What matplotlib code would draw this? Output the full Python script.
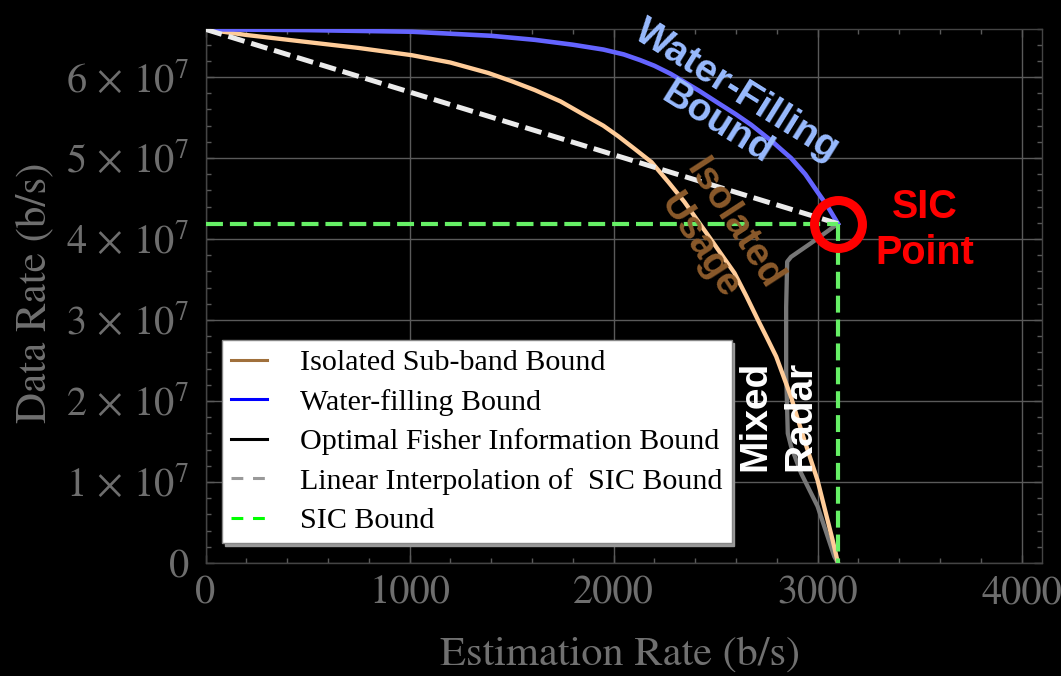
import matplotlib
matplotlib.use("Agg")
import matplotlib.pyplot as plt
from matplotlib.lines import Line2D
from matplotlib.ticker import MultipleLocator, FuncFormatter

plt.rcParams["mathtext.fontset"] = "stix"
plt.rcParams["lines.scale_dashes"] = False

# ---- data -------------------------------------------------------------
sic_est = 3100          # estimation rate at the SIC point (b/s)
sic_data = 4.19e7       # data rate at the SIC point (b/s)
start_data = 6.59e7     # pure communication data rate (b/s)

# water-filling bound
wf_est = [0, 500, 1012, 1400, 1614, 1800, 1950, 2050, 2130, 2200, 2280,
          2347, 2420, 2500, 2600, 2675, 2720, 2780, 2820, 2870, 2940, 3000,
          3050, 3100]
wf_data = [6.59e7, 6.58e7, 6.56e7, 6.51e7, 6.46e7, 6.40e7, 6.34e7, 6.28e7,
           6.21e7, 6.14e7, 6.04e7, 5.94e7, 5.83e7, 5.70e7, 5.54e7, 5.41e7,
           5.32e7, 5.20e7, 5.11e7, 5.00e7, 4.80e7, 4.58e7, 4.40e7, 4.19e7]

# isolated sub-band bound
iso_est = [0, 200, 474, 750, 1012, 1200, 1387, 1500, 1614, 1740, 1858,
           1950, 2023, 2100, 2186, 2270, 2347, 2420, 2479, 2540, 2593, 2650,
           2708, 2750, 2797, 2835, 2870, 2900, 2935, 2970, 3000, 3025, 3049,
           3075, 3100]
iso_data = [6.59e7, 6.52e7, 6.44e7, 6.36e7, 6.27e7, 6.18e7, 6.05e7, 5.95e7,
            5.84e7, 5.70e7, 5.53e7, 5.40e7, 5.27e7, 5.12e7, 4.95e7, 4.70e7,
            4.46e7, 4.20e7, 3.99e7, 3.77e7, 3.58e7, 3.30e7, 3.00e7, 2.79e7,
            2.55e7, 2.29e7, 2.05e7, 1.80e7, 1.52e7, 1.25e7, 1.02e7, 0.77e7,
            0.53e7, 0.27e7, 0.0]

# optimal Fisher information bound (mixed radar)
mix_est = [3100, 2968, 2870, 2851, 2846, 2846, 2854, 2870, 2919, 3000,
           3082, 3100]
mix_data = [4.19e7, 3.95e7, 3.78e7, 3.72e7, 3.16e7, 2.35e7, 1.60e7,
            1.44e7, 1.11e7, 0.70e7, 0.08e7, 0.0]

# linear interpolation of the SIC bound
lin_est = [0, sic_est]
lin_data = [start_data, sic_data]

legend_labels = ["Isolated Sub-band Bound", "Water-filling Bound",
                 "Optimal Fisher Information Bound",
                 "Linear Interpolation of  SIC Bound", "SIC Bound"]

x_ticks = [0, 1000, 2000, 3000, 4000]
y_ticks = [0, 1e7, 2e7, 3e7, 4e7, 5e7, 6e7]

# ---- figure -----------------------------------------------------------
W, H = 1061, 676
fig = plt.figure(figsize=(W / 100, H / 100), dpi=100, facecolor="black")
ax = fig.add_axes([205.5 / W, 1 - 563 / H, (1042 - 205.5) / W, (563 - 28.5) / H])
ax.set_facecolor("black")
ax.set_xlim(0, 4100)
ax.set_ylim(0, 6.6e7)

frame_c = "#444444"
for s in ax.spines.values():
    s.set_color(frame_c)
    s.set_linewidth(1.0)

ax.set_xticks(x_ticks)
ax.set_yticks(y_ticks)
ax.xaxis.set_minor_locator(MultipleLocator(200))
ax.yaxis.set_minor_locator(MultipleLocator(2e6))
ax.tick_params(which="both", direction="in", top=True, right=True,
               color="#5a5a5a", width=1.0)
ax.tick_params(which="major", length=6)
ax.tick_params(which="minor", length=3.5)
ax.tick_params(axis="both", labelcolor="#6e6e6e", labelsize=29)
ax.tick_params(axis="x", pad=9)
ax.tick_params(axis="y", pad=12)

def y_fmt(v, _):
    n = int(round(v / 1e7))
    return "0" if n == 0 else r"$%d\,\times\,10^{7}$" % n

ax.yaxis.set_major_formatter(FuncFormatter(y_fmt))
for lab in ax.get_xticklabels() + ax.get_yticklabels():
    lab.set_fontfamily("STIXGeneral")

ax.grid(True, which="major", color="#5a5a5a", linewidth=1.0)
ax.set_axisbelow(True)

ax.set_xlabel("Estimation Rate (b/s)", fontsize=30.5, color="#707070",
              fontfamily="STIXGeneral")
ax.set_ylabel("Data Rate (b/s)", fontsize=31, color="#707070",
              fontfamily="STIXGeneral")
ax.xaxis.set_label_coords(0.4955, -0.172)
ax.xaxis.label.set_va("center")
ax.yaxis.set_label_coords(-0.204, 0.505)
ax.yaxis.label.set_va("center")

# ---- curves -----------------------------------------------------------
dash = (0, (12.2, 5.0))
ax.plot(mix_est, mix_data, color="#777777", lw=3.1, solid_joinstyle="round",
        zorder=3)
ax.plot(iso_est, iso_data, color="#FFCC99", lw=3.1, solid_joinstyle="round",
        zorder=4)
ax.plot(wf_est, wf_data, color="#6464FF", lw=3.3, solid_joinstyle="round",
        zorder=4)
ax.plot(lin_est, lin_data, color="#EBEBEB", lw=3.6, linestyle=dash, zorder=5)
ax.plot([0, sic_est], [sic_data, sic_data], color="#66F066", lw=3.0,
        linestyle=dash, zorder=6)
ax.plot([sic_est, sic_est], [sic_data, 0], color="#66F066", lw=3.0,
        linestyle=dash, zorder=6)
ax.plot([sic_est], [sic_data], marker="o", markersize=34.5,
        markerfacecolor="none", markeredgecolor="#FF0000",
        markeredgewidth=6.5, zorder=8, clip_on=False)

# ---- annotations ------------------------------------------------------
bold = dict(fontfamily="Liberation Sans", fontweight="bold",
            ha="center", va="center", rotation_mode="anchor",
            multialignment="center", zorder=9)
ax.text(2555, 5.63e7, "Water-Filling\nBound", color="#99BBFF", fontsize=28,
        rotation=-32, linespacing=1.05, **bold)
ax.text(2505, 4.05e7, "Isolated\nUsage", color="#8B5A2B", fontsize=28,
        rotation=-57, linespacing=1.15, **bold)
ax.text(3525, 4.11e7, "SIC\nPoint", color="#FF0000", fontsize=28.5,
        rotation=0, linespacing=1.25, **bold)
ax.text(2805, 1.82e7, "Mixed\nRadar", color="white", fontsize=28,
        rotation=90, linespacing=1.3, **bold)

# ---- legend -----------------------------------------------------------
handles = [
    Line2D([], [], color="#A0703C", lw=2.2),
    Line2D([], [], color="#0000FF", lw=2.2),
    Line2D([], [], color="#000000", lw=2.2),
    Line2D([], [], color="#999999", lw=2.2, linestyle=(0, (8.5, 7))),
    Line2D([], [], color="#00FF00", lw=2.2, linestyle=(0, (8.5, 7))),
]
leg = ax.legend(handles, legend_labels, loc="upper left",
                bbox_to_anchor=(222 / W, 1 - 340 / H),
                bbox_transform=fig.transFigure, borderaxespad=0,
                prop={"family": "Liberation Serif", "size": 21.6},
                frameon=True, fancybox=False, framealpha=1,
                handlelength=1.2, handletextpad=1.1, labelspacing=0.42,
                borderpad=0.3,
                shadow={"ox": 2, "oy": -2, "color": "#999999", "alpha": 1})
leg.get_frame().set_edgecolor("#888888")
leg.get_frame().set_linewidth(1.0)
leg.set_zorder(10)

fig.savefig("out.png", dpi=100, facecolor="black")
